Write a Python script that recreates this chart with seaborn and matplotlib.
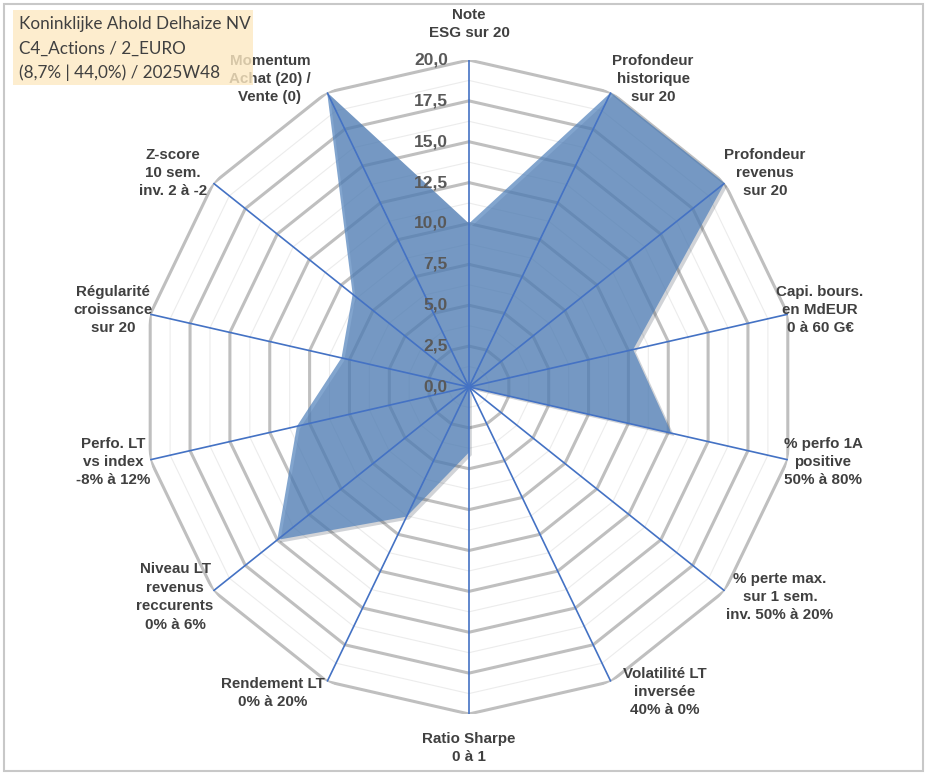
import numpy as np
import matplotlib
matplotlib.use("Agg")
import matplotlib.pyplot as plt
import matplotlib.patheffects as pe
from matplotlib.patches import Rectangle
import seaborn as sns

# axes of the radar, clockwise from the top
labels = [
    "Note\nESG sur 20",
    "Profondeur\nhistorique\nsur 20",
    "Profondeur\nrevenus\nsur 20",
    "Capi. bours.\nen MdEUR\n0 à 60 G€",
    "% perfo 1A\npositive\n50% à 80%",
    "% perte max.\nsur 1 sem.\ninv. 50% à 20%",
    "Volatilité LT\ninversée\n40% à 0%",
    "Ratio Sharpe\n0 à 1",
    "Rendement LT\n0% à 20%",
    "Niveau LT\nrevenus\nreccurents\n0% à 6%",
    "Perfo. LT\nvs index\n-8% à 12%",
    "Régularité\ncroissance\nsur 20",
    "Z-score\n10 sem.\ninv. 2 à -2",
    "Momentum\nAchat (20) /\nVente (0)",
]
scores = [10.0, 20.0, 20.0, 10.3, 12.7, 0.0, 0.0, 4.0, 8.8, 15.0, 10.8, 8.0, 9.1, 20.0]
ring_levels = [0.0, 2.5, 5.0, 7.5, 10.0, 12.5, 15.0, 17.5, 20.0]
ring_labels = ["0,0", "2,5", "5,0", "7,5", "10,0", "12,5", "15,0", "17,5", "20,0"]
box_lines = ["Koninklijke Ahold Delhaize NV", "C4_Actions / 2_EURO", "(8,7% | 44,0%) / 2025W48"]

# label centres in pixels (layout only)
label_pos = [(469, 24), (653, 79), (765, 173), (820, 310), (823, 462), (780, 597),
             (665, 692), (469, 748), (273, 693), (175, 597), (113, 462), (113, 310),
             (173, 173), (270, 79)]

W, H = 933, 776
sns.set_theme(style="white")
plt.rcParams["font.family"] = ["Liberation Sans", "DejaVu Sans"]

fig = plt.figure(figsize=(W / 100, H / 100), dpi=100)
cx, cy, R = 469, 387, 327
ax = fig.add_axes([(cx - R) / W, (H - cy - R) / H, 2 * R / W, 2 * R / H], projection="polar")
ax.set_theta_zero_location("N")
ax.set_theta_direction(-1)
ax.set_ylim(0, 20)
ax.grid(False)
ax.set_xticks([])
ax.set_yticks([])
ax.spines["polar"].set_visible(False)
ax.set_facecolor("none")

n = len(labels)
theta = np.linspace(0, 2 * np.pi, n, endpoint=False)
closed_t = np.append(theta, theta[0])

# polygon rings: light minor ones, grey major ones
for r in np.arange(1.25, 20.01, 1.25):
    major = abs(r / 2.5 - round(r / 2.5)) < 1e-6
    ax.plot(closed_t, [r] * (n + 1), color="#bfbfbf" if major else "#ececec",
            lw=2.2 if major else 0.8, zorder=1)

vals = np.append(scores, scores[0])
poly = ax.fill(closed_t, vals, color="#5282bc", alpha=0.72, lw=0, zorder=2)[0]
poly.set_path_effects([pe.SimplePatchShadow(offset=(2, -2), alpha=0.2), pe.Normal()])

for t in theta:
    ax.plot([t, t], [0, 20], color="#4472c4", lw=1.2, zorder=3)

for lv, txt in zip(ring_levels, ring_labels):
    ax.annotate(txt, xy=(0, lv), xytext=(-21, 0), textcoords="offset pixels",
                ha="right", va="center", fontsize=12.5, fontweight="bold",
                color="#595959", zorder=4)

for txt, (px, py) in zip(labels, label_pos):
    fig.text(px / W, 1 - py / H, txt, ha="center", va="center", fontsize=10.9,
             fontweight="bold", color="#404040", linespacing=1.4)

# info box
fig.add_artist(Rectangle((13 / W, 1 - 85 / H), 240 / W, 75 / H, transform=fig.transFigure,
                         facecolor="#fde9c2", edgecolor="none", alpha=0.8, zorder=5))
for i, line in enumerate(box_lines):
    fig.text(19 / W, 1 - (24 + 24.5 * i) / H, line, ha="left", va="center", fontsize=12.3,
             color="#404040", family=["Lato", "DejaVu Sans"], zorder=6)

# chart frame
fig.add_artist(Rectangle((4 / W, 5 / H), 919 / W, 767 / H, transform=fig.transFigure,
                         fill=False, edgecolor="#c8c8c8", lw=1.5))

fig.savefig("out.png", dpi=100)
